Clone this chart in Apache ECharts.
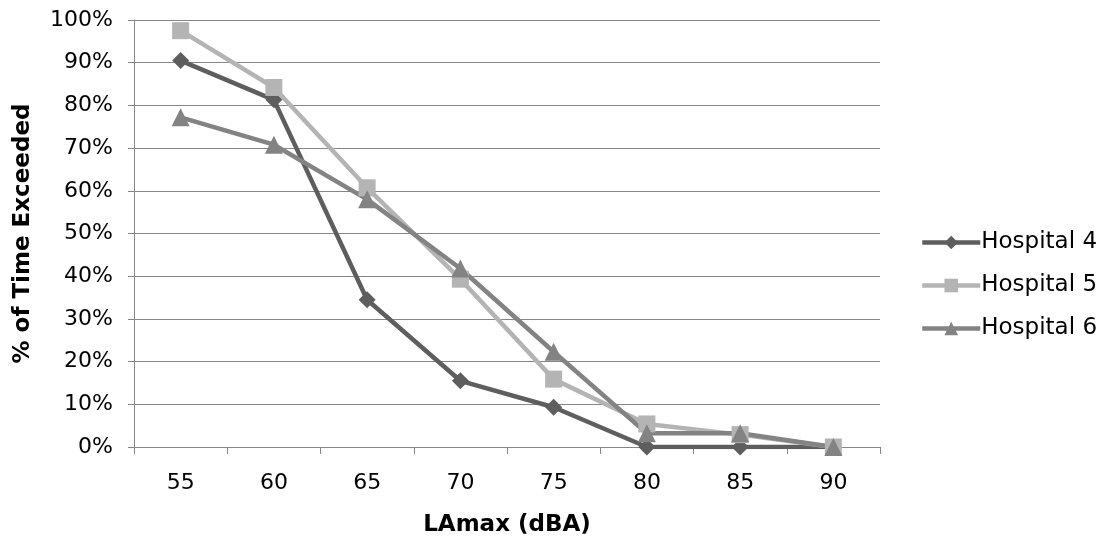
<!DOCTYPE html>
<html>
<head>
<meta charset="utf-8">
<style>
  html, body { margin: 0; padding: 0; background: #fff; }
  #chart { width: 1104px; height: 537px; }
</style>
</head>
<body>
<div id="chart"></div>
<script src="https://cdn.jsdelivr.net/npm/echarts@6/dist/echarts.min.js"></script>
<script>
// LAmax categories
var categories = ["55", "60", "65", "70", "75", "80", "85", "90"];
// % of time exceeded, per hospital
var hospital4 = [90.5, 81.3, 34.5, 15.5, 9.3, 0, 0, 0];
var hospital5 = [97.5, 84.2, 60.7, 39.3, 15.9, 5.4, 2.9, 0];
var hospital6 = [77.2, 70.8, 58.0, 41.8, 22.3, 3.2, 3.2, 0];

var font = "DejaVu Sans, Arial, sans-serif";

function makeSeries(name, data, color, symbol, size) {
  return {
    name: name,
    type: "line",
    data: data,
    symbol: symbol,
    symbolSize: size,
    lineStyle: { color: color, width: 4.5 },
    itemStyle: { color: color },
    z: 3
  };
}

var myChart = echarts.init(document.getElementById("chart"));
var option = {
  animation: false,
  backgroundColor: "#fff",
  grid: { left: 134, right: 224, top: 20, bottom: 90, outerBoundsMode: "none", containLabel: false },
  legend: {
    orient: "vertical",
    left: 915,
    top: 226,
    itemGap: 20,
    itemWidth: 58,
    itemHeight: 17,
    lineStyle: { width: 4.5 },
    textStyle: { fontFamily: font, fontSize: 23, color: "#000", padding: [0, 0, 0, -4] },
    data: ["Hospital 4", "Hospital 5", "Hospital 6"]
  },
  xAxis: {
    type: "category",
    data: categories,
    boundaryGap: true,
    name: "LAmax (dBA)",
    nameLocation: "middle",
    nameGap: 67,
    nameTextStyle: { fontFamily: font, fontSize: 23, fontWeight: "bold", color: "#000" },
    axisLine: { lineStyle: { color: "#868686", width: 1 } },
    axisTick: { show: true, length: 7, lineStyle: { color: "#868686" } },
    axisLabel: { fontFamily: font, fontSize: 22, color: "#000", margin: 25 },
    splitLine: { show: false }
  },
  yAxis: {
    type: "value",
    min: 0,
    max: 100,
    interval: 10,
    name: "% of Time Exceeded",
    nameLocation: "middle",
    nameGap: 99,
    nameTextStyle: { fontFamily: font, fontSize: 23, fontWeight: "bold", color: "#000" },
    axisLine: { show: true, lineStyle: { color: "#868686", width: 1 } },
    axisTick: { show: true, length: 6, lineStyle: { color: "#868686" } },
    axisLabel: { fontFamily: font, fontSize: 22, color: "#000", margin: 21, formatter: "{value}%" },
    splitLine: { lineStyle: { color: "#868686", width: 1 } }
  },
  series: [
    makeSeries("Hospital 4", hospital4, "#5e5e5e", "diamond", 17),
    makeSeries("Hospital 5", hospital5, "#b4b4b4", "rect", 17),
    makeSeries("Hospital 6", hospital6, "#838383", "triangle", 18)
  ]
};
myChart.setOption(option);
</script>
</body>
</html>
